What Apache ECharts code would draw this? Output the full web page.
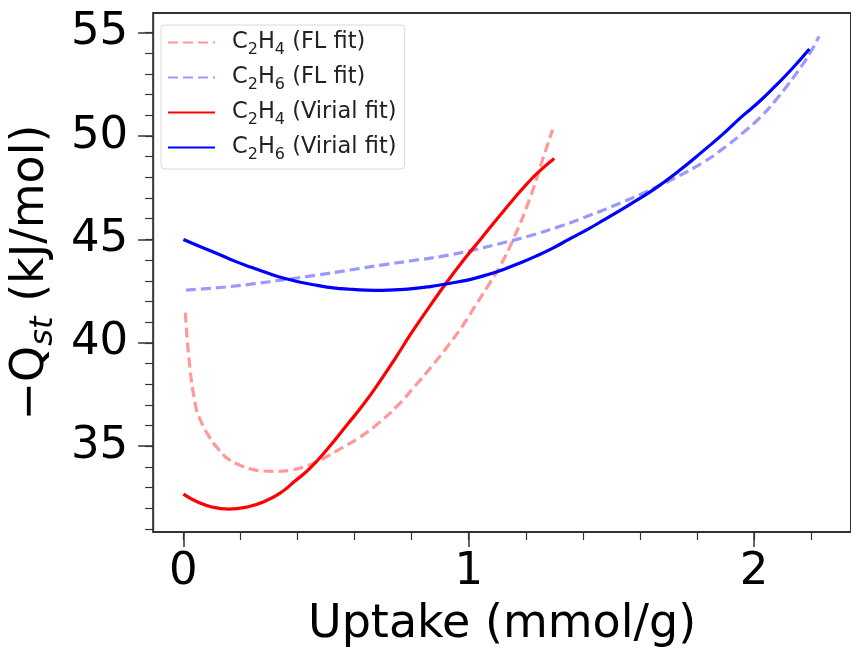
<!DOCTYPE html>
<html><head><meta charset="utf-8">
<script src="https://cdn.jsdelivr.net/npm/echarts@6/dist/echarts.min.js"></script>
<style>html,body{margin:0;padding:0;background:#fff}#c{width:851px;height:653px}</style>
</head><body><div id="c"></div>
<script>
const seriesNames = ['C2H4 (FL fit)', 'C2H6 (FL fit)', 'C2H4 (Virial fit)', 'C2H6 (Virial fit)'];
const c2h4FlX = [0.007, 0.021, 0.043, 0.06, 0.089, 0.12, 0.158, 0.2, 0.238, 0.28, 0.319, 0.38, 0.434, 0.49, 0.548, 0.62, 0.686, 0.75, 0.812, 0.87, 0.927, 0.98, 1.03, 1.07, 1.11, 1.156, 1.213, 1.259, 1.294];
const c2h4FlY = [41.46, 39.04, 36.94, 36.25, 35.49, 34.9, 34.37, 34.07, 33.89, 33.8, 33.78, 33.85, 34.05, 34.4, 34.86, 35.45, 36.14, 36.95, 37.91, 38.85, 39.85, 40.85, 41.94, 42.8, 43.71, 45.0, 46.93, 48.86, 50.3];
const c2h6FlX = [0.009, 0.08, 0.15, 0.25, 0.353, 0.47, 0.583, 0.7, 0.8, 0.9, 1.01, 1.122, 1.215, 1.306, 1.39, 1.477, 1.545, 1.615, 1.72, 1.821, 1.89, 1.959, 2.02, 2.074, 2.12, 2.166, 2.2, 2.228];
const c2h6FlY = [42.55, 42.62, 42.7, 42.86, 43.05, 43.28, 43.52, 43.77, 43.97, 44.17, 44.47, 44.84, 45.18, 45.57, 45.98, 46.45, 46.84, 47.26, 47.95, 48.72, 49.38, 50.13, 50.88, 51.7, 52.5, 53.37, 54.1, 54.82];
const c2h4VirX = [0, 0.05, 0.1, 0.158, 0.22, 0.28, 0.342, 0.39, 0.445, 0.51, 0.571, 0.63, 0.686, 0.745, 0.8, 0.865, 0.927, 0.985, 1.041, 1.1, 1.156, 1.205, 1.248, 1.30];
const c2h4VirY = [32.68, 32.3, 32.06, 31.96, 32.05, 32.3, 32.76, 33.3, 33.95, 34.95, 35.99, 37.0, 38.08, 39.3, 40.49, 41.8, 43.0, 44.05, 45.0, 46.0, 46.93, 47.7, 48.3, 48.91];
const c2h6VirX = [0, 0.06, 0.124, 0.18, 0.238, 0.3, 0.353, 0.41, 0.468, 0.525, 0.583, 0.64, 0.697, 0.755, 0.812, 0.865, 0.915, 0.96, 1.007, 1.065, 1.122, 1.18, 1.236, 1.295, 1.351, 1.415, 1.477, 1.56, 1.649, 1.735, 1.821, 1.89, 1.959, 2.015, 2.074, 2.135, 2.194];
const c2h6VirY = [45.0, 44.65, 44.28, 43.95, 43.65, 43.35, 43.12, 42.93, 42.78, 42.66, 42.59, 42.55, 42.54, 42.57, 42.63, 42.72, 42.83, 42.94, 43.07, 43.29, 43.55, 43.86, 44.19, 44.58, 45.0, 45.47, 45.97, 46.65, 47.42, 48.3, 49.27, 50.08, 50.96, 51.62, 52.41, 53.28, 54.21];
const xMajorTicks = [0, 1, 2];
const xMinorTicks = [0, 0.2, 0.4, 0.6, 0.8, 1, 1.2, 1.4, 1.6, 1.8, 2, 2.2];
const yMajorTicks = [35, 40, 45, 50, 55];
const yMinorTicks = [31,32,33,34,35,36,37,38,39,40,41,42,43,44,45,46,47,48,49,50,51,52,53,54,55];
const legendRich = {
  'C2H4 (FL fit)': 'C{s|2}H{s|4} (FL fit)',
  'C2H6 (FL fit)': 'C{s|2}H{s|6} (FL fit)',
  'C2H4 (Virial fit)': 'C{s|2}H{s|4} (Virial fit)',
  'C2H6 (Virial fit)': 'C{s|2}H{s|6} (Virial fit)'
};
const zip = (a, b) => a.map((v, i) => [v, b[i]]);
const FONT = 'DejaVu Sans';
const XMIN = -0.106, XMAX = 2.34, YMIN = 30.85, YMAX = 55.95;
const chart = echarts.init(document.getElementById('c'));
const axisCommon = {axisLine: {show: false, onZero: false}, splitLine: {show: false}};
const lineSeries = (name, xs, ys, color, dashed) => ({
  name, type: 'line', data: zip(xs, ys), smooth: 0.5, symbol: 'none',
  lineStyle: {color, width: 3.2, type: dashed ? [10, 5] : 'solid', cap: 'butt'}, itemStyle: {color}
});
chart.setOption({
  animation: false,
  grid: {left: 150, top: 13, right: -10, bottom: 120, show: true, borderColor: '#333', borderWidth: 2, backgroundColor: 'transparent'},
  legend: {
    orient: 'vertical', left: 161, top: 25, itemWidth: 47, itemHeight: 12, itemGap: 8,
    padding: [6, 8, 6, 6], backgroundColor: '#fff', borderColor: '#d9d9d9', borderWidth: 1, borderRadius: 4,
    data: seriesNames,
    itemStyle: {color: 'transparent', borderWidth: 0, opacity: 0},
    formatter: n => legendRich[n],
    textStyle: {fontFamily: FONT, fontSize: 22.5, color: '#222', padding: [0, 0, 0, 12],
      rich: {s: {fontFamily: FONT, fontSize: 16, verticalAlign: 'bottom', color: '#222', padding: [0,0,-4,0]}}}
  },
  xAxis: [
    Object.assign({type: 'value', min: XMIN, max: XMAX, position: 'bottom',
      name: 'Uptake (mmol/g)', nameLocation: 'middle', nameGap: 70,
      nameTextStyle: {fontFamily: FONT, fontSize: 46, color: '#000'},
      axisTick: {show: true, length: 15, lineStyle: {color: '#333', width: 1.5}, customValues: xMajorTicks},
      axisLabel: {fontFamily: FONT, fontSize: 45, color: '#000', margin: 18, customValues: xMajorTicks, formatter: v => String(v)}}, axisCommon),
    Object.assign({type: 'value', min: XMIN, max: XMAX, position: 'bottom',
      axisTick: {show: true, length: 8, lineStyle: {color: '#333', width: 1.2}, customValues: xMinorTicks},
      axisLabel: {show: false}}, axisCommon)
  ],
  yAxis: [
    Object.assign({type: 'value', min: YMIN, max: YMAX, position: 'left',
      name: '−Q{s|st} (kJ/mol)', nameLocation: 'middle', nameGap: 89,
      nameTextStyle: {fontFamily: FONT, fontSize: 46, color: '#000', rich: {s: {fontFamily: FONT, fontSize: 32, fontStyle: 'italic', verticalAlign: 'bottom', padding: [0,0,-6,0]}}},
      axisTick: {show: true, length: 15, lineStyle: {color: '#333', width: 1.5}, customValues: yMajorTicks},
      axisLabel: {fontFamily: FONT, fontSize: 45, color: '#000', margin: 25, customValues: yMajorTicks, formatter: v => String(v)}}, axisCommon),
    Object.assign({type: 'value', min: YMIN, max: YMAX, position: 'left',
      axisTick: {show: true, length: 8, lineStyle: {color: '#333', width: 1.2}, customValues: yMinorTicks},
      axisLabel: {show: false}}, axisCommon)
  ],
  series: [
    lineSeries(seriesNames[0], c2h4FlX, c2h4FlY, 'rgba(255,0,0,0.4)', true),
    lineSeries(seriesNames[1], c2h6FlX, c2h6FlY, 'rgba(0,0,255,0.4)', true),
    lineSeries(seriesNames[2], c2h4VirX, c2h4VirY, '#ff0000', false),
    lineSeries(seriesNames[3], c2h6VirX, c2h6VirY, '#0000ff', false)
  ]
});
</script></body></html>
